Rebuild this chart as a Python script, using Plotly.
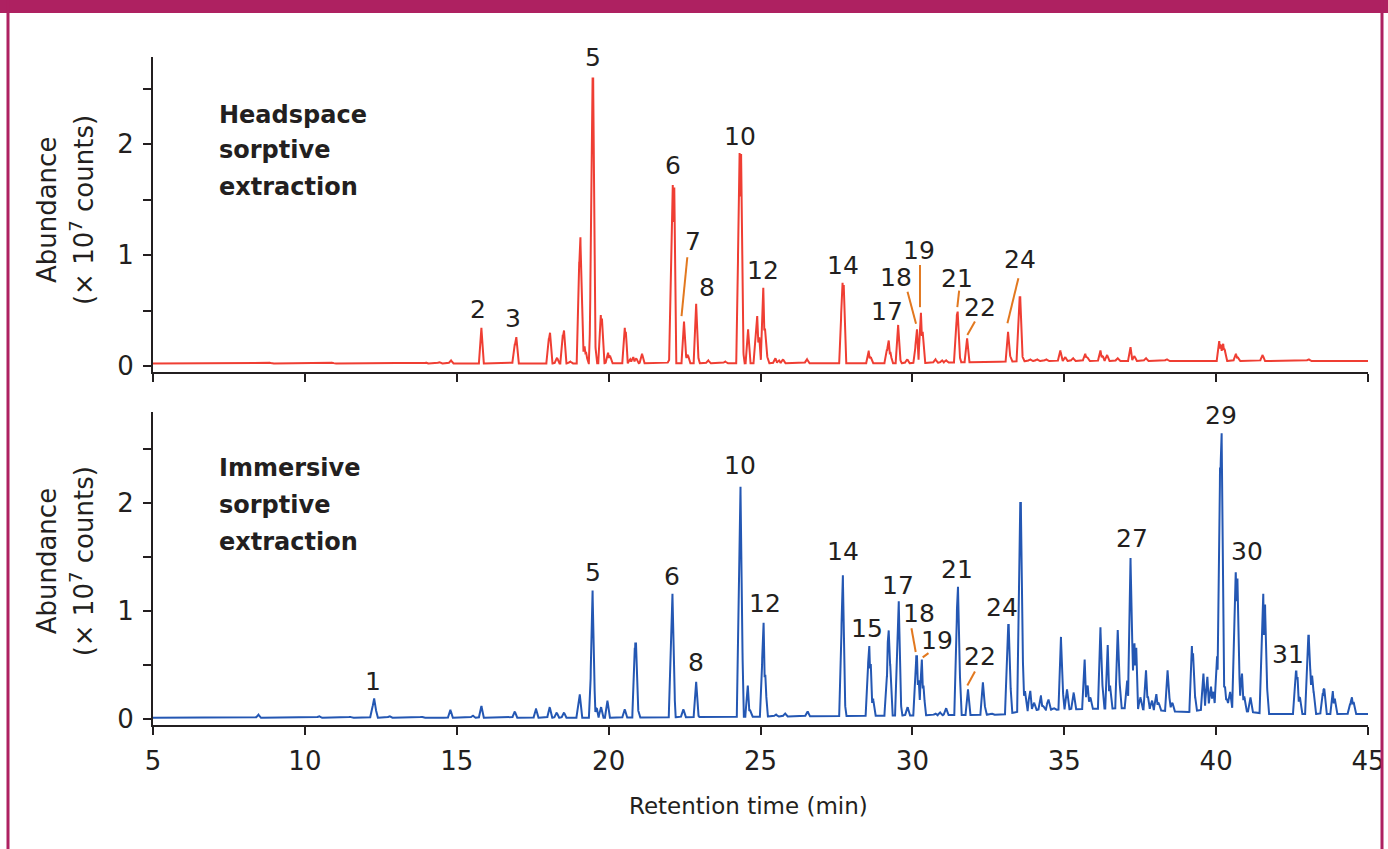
import numpy as np
import plotly.graph_objects as go

# ---------------- data ----------------
# Headspace sorptive extraction (top, red): peak retention times (min) and apex heights (x1e7 counts)
hs_rt = [8.85, 10.9, 14.0, 14.42, 14.8, 15.80, 16.2, 16.9, 16.95, 17.4, 18.02, 18.06, 18.29, 18.48, 18.52,
         18.73, 19.02, 19.06, 19.11, 19.2, 19.25, 19.42, 19.45, 19.48, 19.53, 19.73, 19.77, 19.97, 20.04,
         20.52, 20.56, 20.7, 20.8, 20.9, 21.09, 21.9, 22.0, 22.06, 22.10, 22.15, 22.47, 22.53, 22.6, 22.87,
         22.91, 23.27, 23.83, 24.27, 24.30, 24.35, 24.39, 24.58, 24.84, 24.88, 24.95, 25.08, 25.14, 25.2,
         25.48, 25.6, 25.73, 26.52, 27.2, 27.66, 27.69, 27.73, 28.55, 28.62, 29.15, 29.21, 29.27, 29.52,
         29.56, 29.82, 30.1, 30.14, 30.27, 30.33, 30.75, 30.97, 31.1, 31.44, 31.48, 31.52, 31.79, 32.34,
         32.5, 33.14, 33.2, 33.5, 33.54, 33.6, 33.87, 34.1, 34.4, 34.86, 35.02, 35.28, 35.68, 35.75, 36.18,
         36.26, 36.4, 36.75, 37.17, 37.3, 37.68, 38.37, 39.55, 40.09, 40.15, 40.22, 40.27, 40.64, 40.7,
         41.52, 43.04]
hs_h = [0.03, 0.03, 0.03, 0.035, 0.05, 0.345, 0.03, 0.2, 0.26, 0.03, 0.25, 0.30, 0.075, 0.28, 0.32,
        0.04, 0.94, 1.16, 0.62, 0.17, 0.12, 0.53, 2.17, 2.59, 0.3, 0.46, 0.42, 0.12, 0.09,
        0.345, 0.3, 0.06, 0.08, 0.07, 0.11, 0.03, 0.05, 0.87, 1.63, 1.60, 0.40, 0.1, 0.1, 0.56,
        0.15, 0.05, 0.04, 0.68, 1.92, 1.90, 0.3, 0.33, 0.26, 0.45, 0.25, 0.705, 0.33, 0.1,
        0.07, 0.05, 0.06, 0.06, 0.03, 0.3, 0.75, 0.72, 0.13, 0.08, 0.15, 0.23, 0.12, 0.37,
        0.1, 0.06, 0.12, 0.33, 0.48, 0.3, 0.06, 0.05, 0.05, 0.39, 0.49, 0.15, 0.25, 0.04,
        0.04, 0.30, 0.1, 0.45, 0.62, 0.1, 0.06, 0.06, 0.06, 0.14, 0.08, 0.07, 0.11, 0.08, 0.14,
        0.09, 0.1, 0.07, 0.17, 0.09, 0.07, 0.06, 0.05, 0.225, 0.19, 0.2, 0.15, 0.11, 0.08,
        0.10, 0.06]
hs_base_rt = [5, 30, 34, 45]
hs_base_h = [0.022, 0.025, 0.045, 0.045]

# Immersive sorptive extraction (bottom, blue)
imm_rt = [7.69, 8.46, 10.46, 11.49, 12.22, 12.27, 12.31, 12.78, 13.84, 14.78, 15.52, 15.8, 16.36, 16.9,
          17.4, 17.6, 18.05, 18.28, 18.52, 19.01, 19.04, 19.42, 19.46, 19.5, 19.6, 19.74, 19.95, 20.52,
          20.85, 20.89, 20.95, 22.05, 22.09, 22.12, 22.45, 22.87, 22.9, 24.29, 24.33, 24.37, 24.57, 24.65,
          25.05, 25.09, 25.15, 25.5, 25.8, 26.54, 27.2, 27.66, 27.70, 27.74, 28.53, 28.57, 28.62, 28.7,
          29.15, 29.21, 29.26, 29.5, 29.54, 29.58, 29.83, 30.1, 30.14, 30.2, 30.30, 30.36, 30.75, 30.9,
          31.1, 31.45, 31.49, 31.53, 31.82, 32.31, 32.36, 32.6, 33.12, 33.16, 33.22, 33.52, 33.56, 33.62,
          33.7, 33.87, 34.0, 34.22, 34.3, 34.47, 34.65, 34.88, 34.92, 35.08, 35.3, 35.66, 35.76, 35.85,
          36.18, 36.23, 36.42, 36.5, 36.75, 36.8, 37.06, 37.17, 37.22, 37.3, 37.36, 37.5, 37.68, 37.75,
          37.88, 38.02, 38.1, 38.39, 38.45, 38.55, 39.19, 39.23, 39.3, 39.57, 39.7, 39.82, 39.9, 40.02,
          40.1, 40.14, 40.17, 40.2, 40.28, 40.35, 40.45, 40.6, 40.64, 40.69, 40.74, 40.84, 40.92, 41.12,
          41.5, 41.54, 41.6, 41.65, 42.6, 42.63, 42.67, 42.75, 43.0, 43.04, 43.09, 43.15, 43.2, 43.5,
          43.55, 43.83, 43.9, 44.4, 44.46, 44.52]
imm_h = [0.015, 0.04, 0.025, 0.02, 0.12, 0.19, 0.12, 0.025, 0.02, 0.085, 0.03, 0.12, 0.015, 0.07,
         0.015, 0.09, 0.11, 0.06, 0.06, 0.15, 0.22, 0.3, 1.19, 0.5, 0.1, 0.11, 0.17, 0.09,
         0.65, 0.70, 0.1, 0.62, 1.16, 0.9, 0.09, 0.345, 0.1, 1.25, 2.15, 1.1, 0.31, 0.08,
         0.35, 0.89, 0.4, 0.04, 0.05, 0.07, 0.02, 0.5, 1.33, 0.3, 0.3, 0.675, 0.5, 0.18,
         0.4, 0.82, 0.5, 0.6, 1.09, 0.3, 0.11, 0.3, 0.58, 0.35, 0.55, 0.3, 0.05, 0.06,
         0.1, 0.6, 1.225, 0.67, 0.275, 0.34, 0.15, 0.05, 0.6, 0.87, 0.3, 1.47, 2.0, 0.6,
         0.25, 0.26, 0.15, 0.21, 0.12, 0.18, 0.1, 0.76, 0.4, 0.275, 0.245, 0.55, 0.31, 0.2,
         0.85, 0.4, 0.675, 0.3, 0.815, 0.4, 0.355, 1.49, 0.8, 0.7, 0.65, 0.2, 0.45, 0.2,
         0.17, 0.23, 0.15, 0.45, 0.2, 0.15, 0.675, 0.6, 0.2, 0.42, 0.39, 0.3, 0.25, 0.58,
         1.22, 2.32, 2.645, 1.83, 0.3, 0.18, 0.25, 0.9, 1.35, 1.3, 0.5, 0.42, 0.2, 0.2,
         0.7, 1.16, 1.05, 0.4, 0.35, 0.44, 0.38, 0.2, 0.55, 0.77, 0.45, 0.4, 0.25, 0.24,
         0.28, 0.25, 0.18, 0.14, 0.2, 0.15]
imm_base_rt = [5, 20, 27, 33, 33.7, 37.0, 38.6, 39.0, 40.3, 41.0, 41.7, 42.4, 45]
imm_base_h = [0.01, 0.012, 0.025, 0.04, 0.08, 0.1, 0.07, 0.06, 0.12, 0.07, 0.045, 0.045, 0.045]

# peak labels
hs_labels = ["2", "3", "5", "6", "7", "8", "10", "12", "14", "17", "18", "19", "21", "22", "24"]
hs_label_rt = [15.69, 16.84, 19.49, 22.13, 22.77, 23.23, 24.33, 25.09, 27.73, 29.17, 29.45, 30.22, 31.46, 32.23, 33.54]
hs_label_y = [0.505, 0.43, 2.78, 1.81, 1.12, 0.71, 2.07, 0.865, 0.91, 0.49, 0.80, 1.04, 0.79, 0.53, 0.96]

imm_labels = ["1", "5", "6", "8", "10", "12", "14", "15", "17", "18", "19", "21", "22", "24", "27", "29", "30", "31"]
imm_label_rt = [12.25, 19.48, 22.09, 22.89, 24.33, 25.15, 27.73, 28.49, 29.52, 30.23, 30.80, 31.48, 32.23, 32.94, 37.22, 40.16, 41.03, 42.38]
imm_label_y = [0.345, 1.355, 1.32, 0.52, 2.35, 1.07, 1.55, 0.84, 1.24, 0.98, 0.73, 1.38, 0.58, 1.03, 1.67, 2.81, 1.55, 0.60]

# leader lines (label end -> peak end)
hs_lead_rt0 = [22.59, 29.84, 30.25, 31.54, 32.06, 33.49]
hs_lead_y0 = [0.98, 0.67, 0.91, 0.68, 0.40, 0.79]
hs_lead_rt1 = [22.40, 30.12, 30.25, 31.48, 31.81, 33.13]
hs_lead_y1 = [0.45, 0.38, 0.53, 0.53, 0.28, 0.385]

imm_lead_rt0 = [29.97, 30.53, 32.06]
imm_lead_y0 = [0.84, 0.61, 0.44]
imm_lead_rt1 = [30.11, 30.34, 31.81]
imm_lead_y1 = [0.62, 0.57, 0.31]

x_ticks = [5, 10, 15, 20, 25, 30, 35, 40, 45]
y_major = [0, 1, 2]
y_minor = [0.5, 1.5, 2.5]

# ---------------- styling ----------------
W, H = 1388, 849
L, R = 153, 20
PW = W - L - R
RED = "#EF3E33"
BLUE = "#2457B3"
ORANGE = "#E2781F"
MAGENTA = "#AE2161"
INK = "#231F20"
FONT = "DejaVu Sans"
TICK_SIZE = 26
LABEL_SIZE = 25

PEAK_HW = 0.07     # half width of a drawn peak (min)
PEAK_FLAT = 0.012  # half width of its flat top (min)


def trace_xy(rt, h, base_rt, base_h):
    rt = np.asarray(rt, float)
    h = np.asarray(h, float)
    grid = np.arange(5.0, 45.0 + 1e-9, 0.004)
    extra = np.concatenate([rt - PEAK_HW, rt - PEAK_FLAT, rt + PEAK_FLAT, rt + PEAK_HW])
    x = np.unique(np.clip(np.concatenate([grid, extra]), 5, 45))
    base = np.interp(x, base_rt, base_h)
    y = base.copy()
    for r, v in zip(rt, h):
        d = np.abs(x - r)
        frac = np.clip((d - PEAK_FLAT) / (PEAK_HW - PEAK_FLAT), 0, 1)
        b = np.interp(r, base_rt, base_h)
        tri = v - (v - b) * frac
        m = d < PEAK_HW
        y[m] = np.maximum(y[m], tri[m])
    return x, y


fig = go.Figure()
hx, hy = trace_xy(hs_rt, hs_h, hs_base_rt, hs_base_h)
ix, iy = trace_xy(imm_rt, imm_h, imm_base_rt, imm_base_h)
fig.add_trace(go.Scatter(x=hx, y=hy, mode="lines", line=dict(color=RED, width=2),
                         xaxis="x", yaxis="y", hoverinfo="skip", showlegend=False))
fig.add_trace(go.Scatter(x=ix, y=iy, mode="lines", line=dict(color=BLUE, width=2),
                         xaxis="x2", yaxis="y2", hoverinfo="skip", showlegend=False))

# pixel helpers for layout
def py(px):
    return (H - px) / H

def pxp(px):
    return (px - L) / PW

axis_common = dict(showline=True, linecolor=INK, linewidth=2, ticks="outside", ticklen=8,
                   tickwidth=2, tickcolor=INK, showgrid=False, zeroline=False, automargin=False,
                   tickfont=dict(family=FONT, size=TICK_SIZE, color=INK))
y_minor_cfg = dict(tickvals=y_minor, ticks="outside", ticklen=8, tickwidth=2, tickcolor=INK, showgrid=False)

fig.update_layout(
    width=W, height=H, template="none",
    paper_bgcolor="white", plot_bgcolor="rgba(0,0,0,0)",
    margin=dict(l=L, r=R, t=0, b=0, autoexpand=False),
    showlegend=False,
    xaxis=dict(domain=[0, 1], anchor="y", range=[5, 45], tickvals=x_ticks, showticklabels=False,
               **axis_common),
    yaxis=dict(domain=[py(372), py(57)], anchor="x", range=[-0.054, 2.784], tickvals=y_major,
               minor=y_minor_cfg, ticklabelstandoff=4, **axis_common),
    xaxis2=dict(domain=[0, 1], anchor="y2", range=[5, 45], tickvals=x_ticks,
                ticklabelstandoff=4, **axis_common),
    yaxis2=dict(domain=[py(725), py(412)], anchor="x2", range=[-0.056, 2.843], tickvals=y_major,
                minor=y_minor_cfg, ticklabelstandoff=4, **axis_common),
)

ann = []
for t, x, y in zip(hs_labels, hs_label_rt, hs_label_y):
    ann.append(dict(text=t, x=x, y=y, xref="x", yref="y", showarrow=False,
                    font=dict(family=FONT, size=LABEL_SIZE, color=INK), xanchor="center", yanchor="middle"))
for t, x, y in zip(imm_labels, imm_label_rt, imm_label_y):
    ann.append(dict(text=t, x=x, y=y, xref="x2", yref="y2", showarrow=False,
                    font=dict(family=FONT, size=LABEL_SIZE, color=INK), xanchor="center", yanchor="middle"))

# panel titles
for line, yv in zip(["Headspace", "sorptive", "extraction"], [2.26, 1.946, 1.61]):
    ann.append(dict(text="<b>" + line + "</b>", x=7.1, y=yv, xref="x", yref="y", showarrow=False,
                    xanchor="left", yanchor="middle", font=dict(family=FONT, size=24, color=INK)))
for line, yv in zip(["Immersive", "sorptive", "extraction"], [2.324, 1.98, 1.64]):
    ann.append(dict(text="<b>" + line + "</b>", x=7.1, y=yv, xref="x2", yref="y2", showarrow=False,
                    xanchor="left", yanchor="middle", font=dict(family=FONT, size=24, color=INK)))

# y axis titles
for yref, yv in [("y", 1.405), ("y2", 1.46)]:
    ann.append(dict(text="Abundance", x=pxp(47), y=yv, xref="paper", yref=yref, showarrow=False,
                    textangle=-90, xanchor="center", yanchor="middle",
                    font=dict(family=FONT, size=26, color=INK)))
    ann.append(dict(text="(× 10<sup>7</sup> counts)", x=pxp(82), y=yv, xref="paper", yref=yref,
                    showarrow=False, textangle=-90, xanchor="center", yanchor="middle",
                    font=dict(family=FONT, size=26, color=INK)))

# x axis title
ann.append(dict(text="Retention time (min)", x=pxp(748), y=py(806), xref="paper", yref="paper",
                showarrow=False, xanchor="center", yanchor="middle",
                font=dict(family=FONT, size=23, color=INK)))
fig.update_layout(annotations=ann)

shapes = []
for x0, y0, x1, y1 in zip(hs_lead_rt0, hs_lead_y0, hs_lead_rt1, hs_lead_y1):
    shapes.append(dict(type="line", xref="x", yref="y", x0=x0, y0=y0, x1=x1, y1=y1,
                       line=dict(color=ORANGE, width=2)))
for x0, y0, x1, y1 in zip(imm_lead_rt0, imm_lead_y0, imm_lead_rt1, imm_lead_y1):
    shapes.append(dict(type="line", xref="x2", yref="y2", x0=x0, y0=y0, x1=x1, y1=y1,
                       line=dict(color=ORANGE, width=2)))
# magenta frame
shapes.append(dict(type="rect", xref="paper", yref="paper", x0=pxp(0), x1=pxp(W), y0=py(13), y1=py(0),
                   fillcolor=MAGENTA, line=dict(width=0), layer="above"))
shapes.append(dict(type="line", xref="paper", yref="paper", x0=pxp(8), x1=pxp(8), y0=0, y1=1,
                   line=dict(color=MAGENTA, width=3)))
shapes.append(dict(type="line", xref="paper", yref="paper", x0=pxp(1382), x1=pxp(1382), y0=0, y1=1,
                   line=dict(color=MAGENTA, width=3)))
fig.update_layout(shapes=shapes)

fig.write_html("out.html", config={"displayModeBar": False},
               post_script="document.body.style.margin='0';document.body.style.overflow='hidden';")
